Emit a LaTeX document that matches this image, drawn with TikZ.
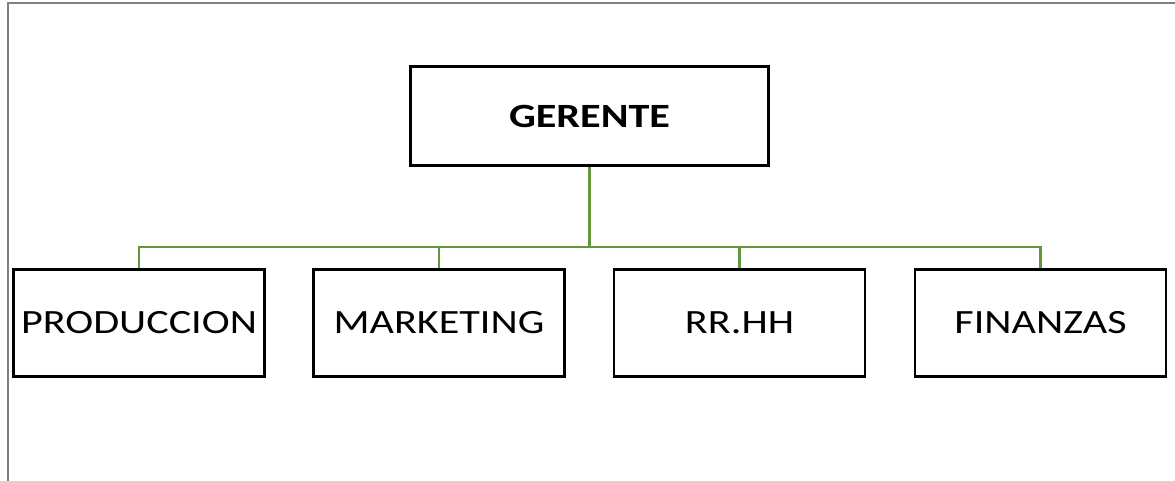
\documentclass[tikz,border=0pt]{standalone}
\usepackage{fontspec}
\setmainfont{Carlito}[FakeStretch=1.24]
\definecolor{framegray}{RGB}{128,128,128}
\definecolor{conn}{RGB}{100,150,60}
\begin{document}
\begin{tikzpicture}[x=1pt,y=-1pt,
 box/.style={draw=black, line width=2.3pt, minimum width=251pt, minimum height=107pt, inner sep=0pt, font=\fontsize{34}{40}\selectfont},
 topbox/.style={draw=black, line width=3.5pt, minimum width=358pt, minimum height=99pt, inner sep=0pt, font=\fontsize{34}{40}\selectfont\bfseries},
 link/.style={draw=conn, line width=2.2pt}]
\useasboundingbox (0,0) rectangle (1175,481);
\draw[framegray, line width=2pt] (7.5,481) -- (7.5,3.5) -- (1175,3.5);
\node[topbox] (g) at (589.5,116) {GERENTE};
\node[box] (p) at (139,323) {PRODUCCION};
\node[box] (m) at (439,323) {MARKETING};
\node[box] (r) at (739.5,323) {RR.HH};
\node[box] (f) at (1040.5,323) {FINANZAS};
\coordinate (bus) at (589.5,247);
\draw[link] (g.south) -- (bus);
\draw[link] (p.north) |- (bus);
\draw[link] (m.north) |- (bus);
\draw[link] (r.north) |- (bus);
\draw[link] (f.north) |- (bus);
\end{tikzpicture}
\end{document}
